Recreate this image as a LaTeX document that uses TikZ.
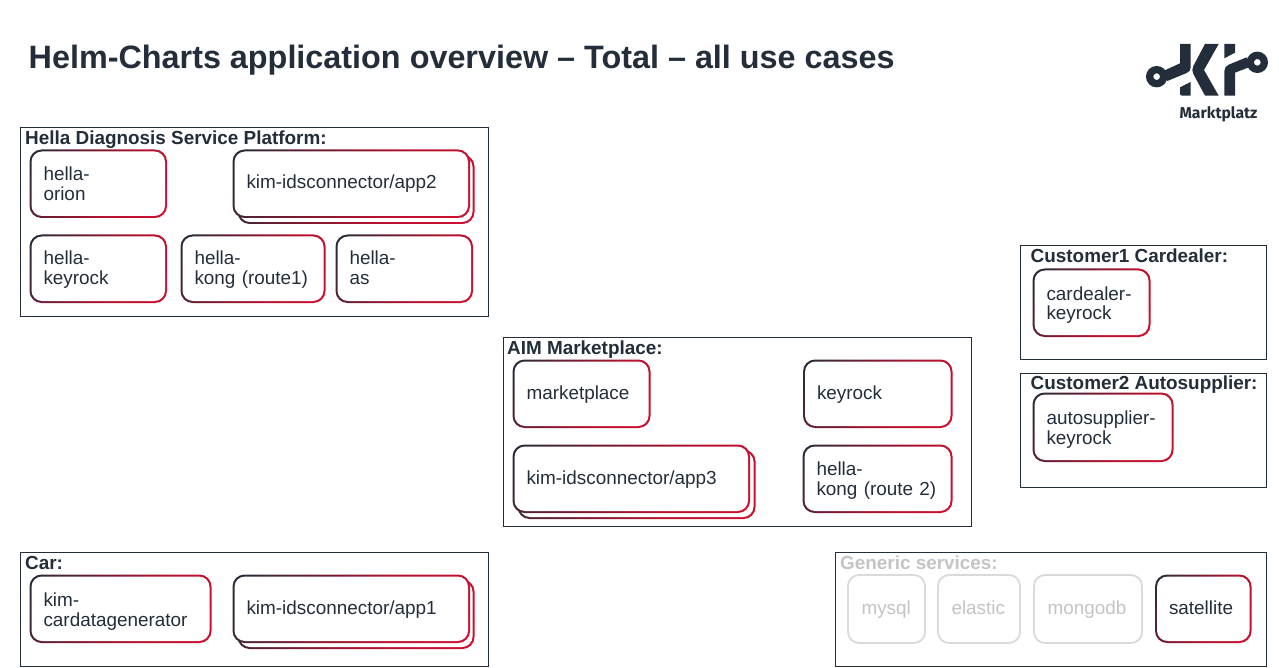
\documentclass[tikz,border=0pt]{standalone}
\usepackage{fontspec}
\setmainfont{Liberation Sans}
\newfontfamily\logofont{Fira Sans}
\definecolor{ink}{HTML}{232E3A}
\definecolor{gmaroon}{HTML}{7A1A30}
\definecolor{gred}{HTML}{D00F30}
\definecolor{gmid}{HTML}{B5122F}
\definecolor{paleline}{HTML}{DADADA}
\definecolor{paletext}{HTML}{C4C4C4}
\pgfdeclarehorizontalshading{inkred}{100bp}{color(0bp)=(ink);color(16bp)=(ink);color(41bp)=(gmaroon);color(60bp)=(gmid);color(84bp)=(gred);color(100bp)=(gred)}
\newcommand{\boxstrut}[1]{\rule{0pt}{14pt}#1\rule[-4pt]{0pt}{4pt}}
\newcommand{\lowtwo}{\rule{0pt}{18pt}}
\newcommand{\midtwo}{\rule{0pt}{16pt}}
\tikzset{
  x=1pt,y=-1pt,
  bodyfont/.style={font=\fontsize{18.9}{20}\selectfont},
  headfont/.style={font=\fontsize{18.9}{20}\selectfont\bfseries},
  framebox/.style={draw=ink,line width=1pt,rectangle,inner sep=0pt,fill=white},
  framehead/.style={headfont,text=ink,anchor=base west,inner sep=0pt},
  gradfill/.style={rounded corners=12pt,shading=inkred,shading angle=-30},
  gradinner/.style={rounded corners=10.5pt,fill=white},
  boxtext/.style={bodyfont,text=ink,align=left,inner sep=0pt},
  palebox/.style={draw=paleline,line width=1.8pt,rounded corners=11pt,rectangle,inner xsep=13.5pt,inner ysep=0pt,align=left,bodyfont,text=paletext,fill=white},
}
\newcommand{\secframe}[5]{% name x0 y0 x1 y1
  \pgfmathsetmacro{\fw}{#4-#2}\pgfmathsetmacro{\fh}{#5-#3}
  \node[framebox,minimum width=\fw pt,minimum height=\fh pt] (#1) at ({(#2+#4)/2},{(#3+#5)/2}) {};
}
\newcommand{\gradframe}[4]{%
  \shade[gradfill] ({#1-0.5},{#2-0.5}) rectangle ({#3},{#4});
  \fill[gradinner] ({#1+1.5},{#2+1.5}) rectangle ({#3-2},{#4-2});
}
\newcommand{\gradbox}[6]{% name x0 y0 x1 y1 text
  \gradframe{#2}{#3}{#4}{#5}
  \pgfmathsetmacro{\tw}{#4-#2-27}
  \node[boxtext,text width=\tw pt] (#1) at ({(#2+#4)/2},{(#3+#5)/2}) {\boxstrut{#6}};
}
\newcommand{\stackbox}[8]{% name x0 y0 x1 y1 backx backy text
  \gradframe{#2+5}{#3+5}{#6}{#7}
  \gradbox{#1}{#2}{#3}{#4}{#5}{#8}
}
\newcommand{\palenode}[6]{%
  \pgfmathsetmacro{\fw}{#4-#2-27}\pgfmathsetmacro{\fh}{#5-#3}
  \node[palebox,text width=\fw pt,minimum height=\fh pt] (#1) at ({(#2+#4)/2},{(#3+#5)/2}) {\boxstrut{#6}};
}
\begin{document}
\begin{tikzpicture}
\useasboundingbox (0,0) rectangle (1279,668);
\fill[white] (0,0) rectangle (1279,668);

\node[font=\fontsize{32.35}{36}\selectfont\bfseries,text=ink,anchor=base west,inner sep=0pt] (title) at (28.5,68.5) {Helm-Charts application overview – Total – all use cases};

% logo
\begin{scope}[shift={(1120,30)},x=0.3333pt,y=-0.3333pt]
  \draw[ink,line width=7.3pt] (110,140) circle[radius=21];
  \draw[ink,line width=7.3pt] (412,97) circle[radius=21];
  \fill[ink] (180,42) -- (212,42) -- (212,112) .. controls (212,120) and (208,126) .. (200,129) -- (142,153) -- (132,122) -- (180,100) -- cycle;
  \fill[ink] (180,172) -- (212,156) -- (212,197) -- (186,197) .. controls (182,197) and (180,194) .. (180,190) -- cycle;
  \fill[ink] (255,42) -- (296,42) -- (252,120) -- (296,197) -- (255,197) -- (220,132) .. controls (216,125) and (216,115) .. (220,108) -- cycle;
  \fill[ink] (313,42) -- (345,42) -- (345,68) -- (313,85) -- cycle;
  \fill[ink] (313,197) -- (345,197) -- (345,128) -- (392,110) -- (380,82) -- (326,104) .. controls (318,107) and (313,114) .. (313,124) -- cycle;
\end{scope}
\node[font=\logofont\fontsize{15.7}{17}\selectfont\bfseries,text=ink,inner sep=0pt] (logotext) at (1218.5,114) {Marktplatz};

% section frames
\secframe{hellaframe}{20.5}{127.5}{488.5}{316.5}
\secframe{aimframe}{503.5}{337.5}{971.5}{526}
\secframe{custoneframe}{1020.5}{245.5}{1266.5}{359.5}
\secframe{custtwoframe}{1020.5}{373.5}{1266.5}{487}
\secframe{carframe}{20.5}{552.5}{488.5}{666}
\secframe{genericframe}{835.5}{552.5}{1266.5}{666}

\node[framehead] (hellahead) at (25,144.5) {Hella Diagnosis Service Platform:};
\node[framehead] (aimhead) at (507,354.5) {AIM Marketplace:};
\node[framehead] (custonehead) at (1030.5,262.5) {Customer1 Cardealer:};
\node[framehead] (custtwohead) at (1030.5,389.5) {Customer2 Autosupplier:};
\node[framehead] (carhead) at (25,569.5) {Car:};
\node[framehead,text=paletext] (generichead) at (840,569.5) {Generic services:};

% Hella
\gradbox{orion}{30}{150}{167}{218}{\lowtwo hella-\\orion}
\stackbox{apptwo}{233}{150}{470}{218}{474.5}{224}{kim-idsconnector/app2}
\gradbox{hkeyrock}{30}{235}{167}{303}{\midtwo hella-\\keyrock}
\gradbox{kongone}{181}{235}{325.5}{303}{\midtwo hella-\\kong (route1)}
\gradbox{hellaas}{336}{235}{473}{303}{\midtwo hella-\\as}

% AIM
\gradbox{market}{513}{360}{650.5}{428}{marketplace}
\gradbox{keyrock}{803.5}{360}{952.5}{428}{keyrock}
\stackbox{appthree}{513}{445}{750}{513}{755.5}{519}{kim-idsconnector/app3}
\gradbox{kongtwo}{803}{445}{952.5}{513}{\midtwo hella-\\kong (route 2)}

% Customers
\gradbox{cardealer}{1033}{269}{1150.5}{337}{\lowtwo cardealer-\\keyrock}
\gradbox{autosupplier}{1033}{393}{1173.5}{462}{\lowtwo autosupplier-\\keyrock}

% Car
\gradbox{cardata}{30}{575}{211.5}{643}{\lowtwo kim-\\cardatagenerator}
\stackbox{appone}{233}{575}{470}{643}{474.5}{649}{kim-idsconnector/app1}

% Generic
\palenode{mysql}{848}{575}{925}{643}{mysql}
\palenode{elastic}{938}{575}{1020}{643}{elastic}
\palenode{mongodb}{1034}{575}{1142}{643}{mongodb}
\gradbox{satellite}{1155.5}{575}{1251.5}{643}{satellite}
\end{tikzpicture}
\end{document}
